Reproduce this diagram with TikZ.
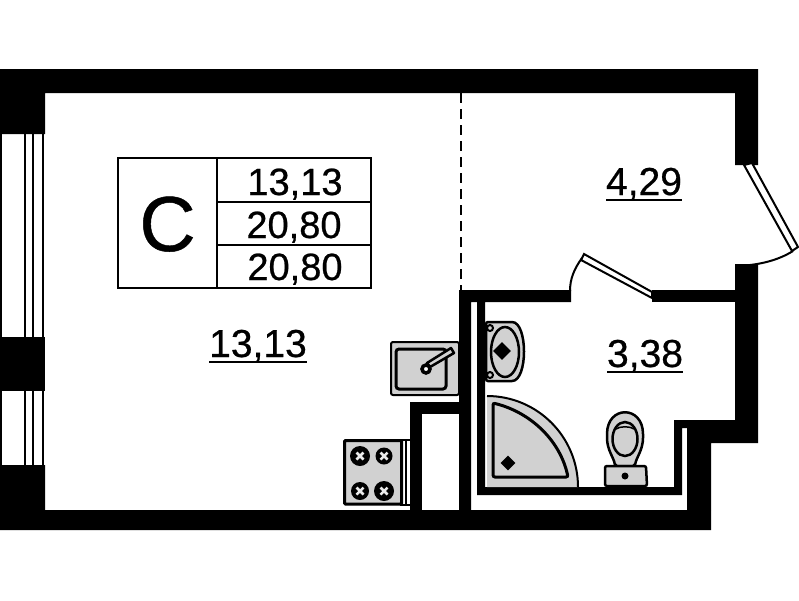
\documentclass[tikz,border=0pt]{standalone}
\usepackage{fontspec}
\setmainfont[FakeBold=0.6]{Liberation Sans}
\usetikzlibrary{shapes.geometric}
\definecolor{fixgray}{gray}{0.82}
\newcommand{\arealabel}[1]{\vtop{\hbox{\smash{#1}}\kern3.5pt\hrule height 2pt}}
\tikzset{
   wall/.style={fill=black,draw=none},
   fixture/.style={fill=fixgray,draw=black,line width=2.5pt,rounded corners=2pt},
   leaf/.style={fill=white,draw=black,line width=2pt,line join=miter},
   swing/.style={line width=2pt},
   area/.style={font=\fontsize{39}{39}\selectfont,inner sep=0pt,anchor=base},
   cell/.style={font=\fontsize{38}{38}\selectfont,inner sep=0pt,anchor=base},
   knob/.style={diamond,fill=black,minimum size=18pt,inner sep=0pt}
}
\begin{document}
\begin{tikzpicture}[x=1pt,y=-1pt]
   \useasboundingbox (0,0) rectangle (799,600);
   % outer walls
   \fill[wall] (0,69) -- (758,69) -- (758,165) -- (735,165) -- (735,93) -- (45,93)
      -- (45,134) -- (0,134) -- cycle;
   \fill[wall] (0,337) rectangle (45,391);
   \fill[wall] (0,465) -- (45,465) -- (45,510) -- (711,510) -- (711,530) -- (0,530) -- cycle;
   \fill[wall] (735,264) -- (758,264) -- (758,443) -- (711,443) -- (711,510) -- (687,510)
      -- (687,428) -- (682,428) -- (682,495) -- (477,495) -- (477,302) -- (471,302)
      -- (471,510) -- (459,510) -- (459,290) -- (571,290) -- (571,302) -- (485,302)
      -- (485,487) -- (674,487) -- (674,420) -- (735,420) -- cycle;
   \fill[wall] (652,290) rectangle (735,302);
   \fill[wall] (410,402) rectangle (459,414);
   \fill[wall] (410,402) rectangle (422,510);
   % window
   \foreach \wx in {1,25,33,43} {
      \draw[line width=2pt] (\wx,134) -- (\wx,337);
      \draw[line width=2pt] (\wx,391) -- (\wx,465);
   }
   % partition
   \draw[line width=1.5pt,dash pattern=on 10pt off 6pt] (461,93) -- (461,290);
   % doors
   \draw[leaf] (744,165) -- (752,163) -- (798,247) -- (792,251) -- cycle;
   \draw[swing] (738,266) .. controls (758,265) and (777,261) .. (793,251);
   \draw[leaf] (581,260) -- (584,254) -- (652,292) -- (652,298) -- cycle;
   \draw[swing] (570,291) .. controls (570,279) and (574,269) .. (582,258);
   % kitchen
   \draw[fixture,line width=2pt] (391,342) rectangle (459,395);
   \draw[fixture,line width=3pt,rounded corners=3pt] (396,349) rectangle (446,389);
   \draw[fill=fixgray,line width=2.5pt,line join=round] (427,363) -- (451,348) -- (454,353) -- (430,367) -- cycle;
   \node (drain) [circle,fill=white,draw=black,line width=3.5pt,minimum size=8pt,inner sep=0pt] at (426,369) {};
   \draw[fixture,line width=3pt,rounded corners=1pt] (344.5,440.5) rectangle (401.5,504);
   \draw[line width=2pt] (400,440) -- (410,440) (400,505) -- (410,505);
   \draw[line width=2pt] (406,440) -- (406,505);
   \foreach \bx/\by/\br in {360/456/10,384/456/8.5,360/491/9,384/491/10} {
      \fill (\bx,\by) circle (\br pt);
      \draw[black!8,line width=2.5pt] (\bx-3.5,\by-3.5) -- (\bx+3.5,\by+3.5) (\bx-3.5,\by+3.5) -- (\bx+3.5,\by-3.5);
   }
   % bathroom
   \draw[fixture] (486,322) -- (510,322) .. controls (528,322) and (528,381) .. (510,381) -- (486,381) -- cycle;
   \draw[line width=2.5pt] (505,352) ellipse (14pt and 25pt);
   \node (basin) [knob] at (502,351) {};
   \draw[line width=2pt] (490,328) circle (3pt) (490,375) circle (3pt);
   \fill[fixgray] (487,396) arc[start angle=-90,end angle=0,radius=91] -- (487,487) -- cycle;
   \draw[line width=2pt] (487,396) arc[start angle=-90,end angle=0,radius=91];
   \draw[fixture,line width=3pt] (493,403) .. controls (530,412) and (560,440) .. (568,477) -- (493,477) -- cycle;
   \node (shower) [knob,minimum size=15pt] at (508,463) {};
   \draw[fixture] (607,436) .. controls (607,405) and (643,405) .. (643,436) .. controls (643,450) and (636,458) .. (635,466) -- (615,466) .. controls (614,458) and (607,450) .. (607,436) -- cycle;
   \draw[line width=2.5pt] (625,439) ellipse (12.5pt and 17pt);
   \draw[line width=1.5pt] (616,429) .. controls (620,426) and (630,426) .. (634,429);
   \draw[fixture] (605,466) -- (646,466) -- (647,486) -- (605,486) -- cycle;
   \fill (625,476) circle (3.5pt);
   % table
   \draw[line width=2.5pt] (118,158) rectangle (371,288);
   \draw[line width=2.5pt] (217,158) -- (217,288);
   \draw[line width=2.5pt] (217,202) -- (371,202);
   \draw[line width=2pt] (217,245) -- (371,245);
   \node (cls) [font=\fontsize{78}{78}\selectfont,inner sep=0pt,anchor=base] at (167.5,251) {C};
   \node (rowA) [cell] at (295,195) {13,13};
   \node (rowB) [cell] at (294,238) {20,80};
   \node (rowC) [cell] at (295,280) {20,80};
   % areas
   \node (living) [area] at (258,357) {\arealabel{13,13}};
   \node (hall) [area] at (644,195) {\arealabel{4,29}};
   \node (bath) [area] at (645,367) {\arealabel{3,38}};
\end{tikzpicture}
\end{document}
